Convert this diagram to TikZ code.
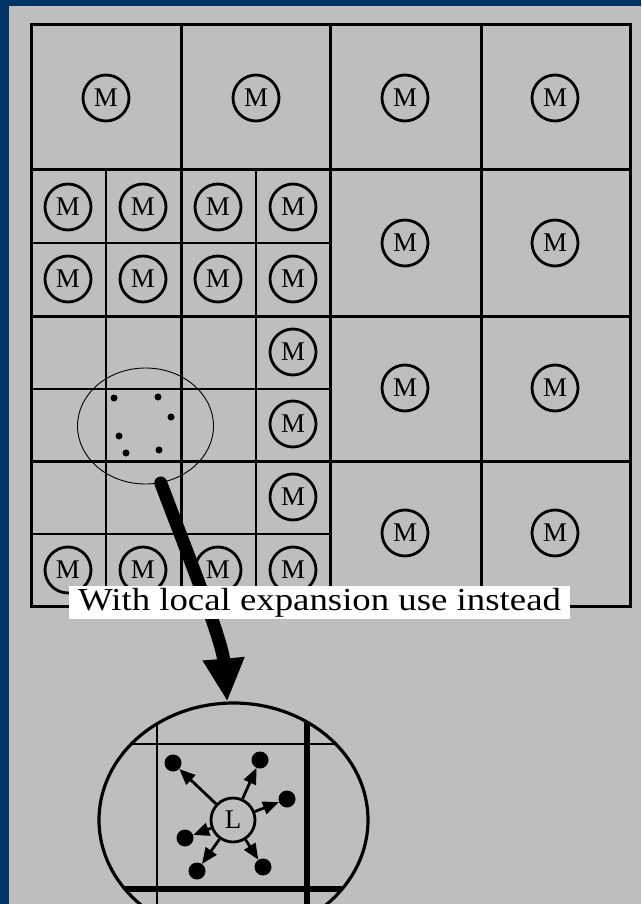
\documentclass[tikz,border=0pt]{standalone}
\usepackage{fontspec}
\setmainfont{Liberation Serif}
\usepackage{tikz}
\usetikzlibrary{arrows.meta,shapes.geometric}
\definecolor{slideblue}{RGB}{0,51,102}
\definecolor{slidegray}{RGB}{190,190,190}

\begin{document}
\begin{tikzpicture}[x=1pt,y=-1pt,
  thin line/.style={line width=1.4pt},
  thick line/.style={line width=3pt},
  mpole/.style={circle,draw,line width=2.8pt,minimum size=46pt,inner sep=0pt,
    font=\fontsize{27}{27}\selectfont},
  pdot/.style={circle,fill,minimum size=7pt,inner sep=0pt},
  bigdot/.style={circle,fill,minimum size=17pt,inner sep=0pt},
  spoke/.style={line width=2.8pt,-{Triangle[length=16pt,width=13pt]}}]
  \useasboundingbox (0,0) rectangle (641,904);
  \clip (0,0) rectangle (641,904);
  \fill[slideblue] (0,0) rectangle (641,904);
  \fill[slidegray] (9,6) rectangle (641,904);
  % grid of cells
  \draw[thick line] (31,25) rectangle (630,606);
  \foreach \x in {181,330,481} \draw[thick line] (\x,25) -- (\x,606);
  \foreach \y in {170,316,461} \draw[thick line] (31,\y) -- (630,\y);
  \foreach \x in {106,256} \draw[thin line] (\x,170) -- (\x,606);
  \foreach \y in {243,389,534} \draw[thin line] (31,\y) -- (330,\y);
  % multipoles
  \foreach \x/\y [count=\i] in {106/98,256/98,405/98,555/98,405/243,555/243,
      405/388,555/388,405/533,555/533}
    \node[mpole] (big\i) at (\x,\y) {M};
  \foreach \x [count=\c] in {68,143,218,293} {
    \node[mpole] (s\c a) at (\x,207) {M};
    \node[mpole] (s\c b) at (\x,279) {M};
    \node[mpole] (s\c c) at (\x,570) {M};
  }
  \foreach \y [count=\r] in {352,424,497} \node[mpole] (e\r) at (293,\y) {M};
  % particles near the target cell
  \node[ellipse,draw,line width=0.9pt,minimum width=136pt,minimum height=116pt] (near) at (145.5,426) {};
  \foreach \x/\y [count=\i] in {114/398,158/397,171/417,119/436,126/453,159/450}
    \node[pdot] (u\i) at (\x,\y) {};
  % magnified view
  \node[ellipse,draw,line width=3.2pt,minimum width=269pt,minimum height=234pt] (lens) at (233.5,820) {};
  \draw[line width=13pt,line cap=round,-{Triangle[length=43pt,width=39pt]}]
    (near.-75) .. controls (190,560) and (222,640) .. (lens.93);
  \node[fill=white,inner xsep=9pt,inner ysep=2pt,text height=22pt,text depth=7pt,
    font=\fontsize{32}{32}\selectfont] (note) at (319.5,602.5)
    {\scalebox{1.15}[1]{With local expansion use instead}};
  \begin{scope}
    \clip (233.5,820) ellipse [x radius=133, y radius=115.5];
    \draw[thin line] (157,680) -- (157,960);
    \draw[line width=5.5pt] (307,680) -- (307,960);
    \draw[thin line] (80,744) -- (400,744);
    \draw[line width=5.5pt] (80,889) -- (400,889);
  \end{scope}
  \node[circle,draw,line width=2.8pt,minimum size=44pt,inner sep=0pt,fill=slidegray,
    font=\fontsize{27}{27}\selectfont] (loc) at (233,820) {L};
  \foreach \x/\y [count=\i] in {173/763,260/760,287/799,185/838,197/871,263/867} {
    \node[bigdot] (d\i) at (\x,\y) {};
    \draw[spoke] (loc) -- (d\i);
  }
\end{tikzpicture}
\end{document}
